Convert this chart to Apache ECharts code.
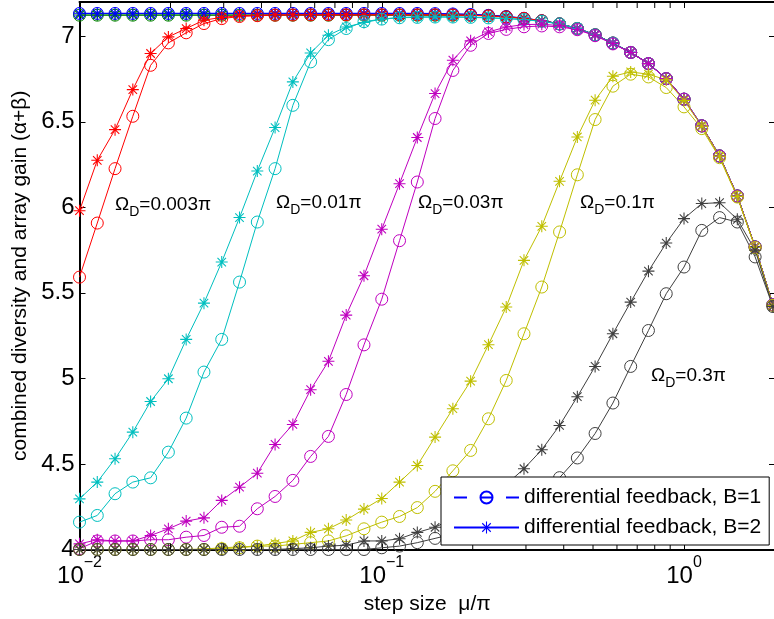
<!DOCTYPE html>
<html>
<head>
<meta charset="utf-8">
<script src="https://cdn.jsdelivr.net/npm/echarts@6/dist/echarts.min.js"></script>
<style>
  html, body { margin: 0; padding: 0; background: #fff; }
  #chart { width: 774px; height: 619px; }
</style>
</head>
<body>
<div id="chart"></div>
<script>
// step size mu/pi (17 points per decade)
const stepSize = [0.01, 0.01145, 0.01311, 0.01501, 0.01719, 0.01968, 0.02254, 0.02581, 0.02955, 0.03384,
  0.03875, 0.04437, 0.05080, 0.05817, 0.06661, 0.07627, 0.08733, 0.1, 0.1145, 0.1311,
  0.1501, 0.1719, 0.1968, 0.2254, 0.2581, 0.2955, 0.3384, 0.3875, 0.4437, 0.5080,
  0.5817, 0.6661, 0.7627, 0.8733, 1.0, 1.145, 1.311, 1.501, 1.719, 1.968];

// combined gain, B = 1 (circles) and B = 2 (asterisks), per Doppler spread
const blueB1 = [7.133, 7.133, 7.133, 7.133, 7.133, 7.133, 7.133, 7.133, 7.133, 7.133,
  7.133, 7.133, 7.133, 7.133, 7.133, 7.133, 7.133, 7.133, 7.133, 7.133,
  7.132, 7.13, 7.127, 7.122, 7.115, 7.105, 7.09, 7.072, 7.045, 7.008,
  6.96, 6.905, 6.84, 6.752, 6.632, 6.476, 6.30, 6.066, 5.768, 5.43];
const blueB2 = [7.134, 7.134, 7.134, 7.134, 7.134, 7.134, 7.134, 7.134, 7.134, 7.134,
  7.134, 7.134, 7.134, 7.134, 7.134, 7.134, 7.134, 7.134, 7.134, 7.134,
  7.133, 7.131, 7.128, 7.123, 7.116, 7.106, 7.091, 7.073, 7.046, 7.009,
  6.961, 6.906, 6.841, 6.753, 6.633, 6.477, 6.301, 6.067, 5.769, 5.431];
const greenB1 = [7.123, 7.123, 7.123, 7.123, 7.123, 7.123, 7.123, 7.123, 7.123, 7.123,
  7.123, 7.123, 7.123, 7.123, 7.123, 7.123, 7.123, 7.123, 7.123, 7.123,
  7.123, 7.123, 7.123, 7.12, 7.113, 7.104, 7.09, 7.072, 7.045, 7.008,
  6.96, 6.905, 6.84, 6.752, 6.632, 6.476, 6.30, 6.066, 5.768, 5.43];
const greenB2 = [7.124, 7.124, 7.124, 7.124, 7.124, 7.124, 7.124, 7.124, 7.124, 7.124,
  7.124, 7.124, 7.124, 7.124, 7.124, 7.124, 7.124, 7.124, 7.124, 7.124,
  7.124, 7.124, 7.124, 7.121, 7.114, 7.105, 7.091, 7.073, 7.046, 7.009,
  6.961, 6.906, 6.841, 6.753, 6.633, 6.477, 6.301, 6.067, 5.769, 5.431];
const redB1 = [5.592, 5.908, 6.226, 6.532, 6.83, 6.961, 7.02, 7.074, 7.103, 7.115,
  7.12, 7.123, 7.124, 7.125, 7.125, 7.125, 7.125, 7.125, 7.125, 7.125,
  7.125, 7.124, 7.122, 7.119, 7.113, 7.104, 7.09, 7.072, 7.045, 7.008,
  6.96, 6.905, 6.84, 6.752, 6.632, 6.476, 6.30, 6.066, 5.768, 5.43];
const redB2 = [5.98, 6.275, 6.454, 6.688, 6.899, 6.996, 7.045, 7.094, 7.11, 7.12,
  7.123, 7.125, 7.125, 7.125, 7.125, 7.125, 7.125, 7.125, 7.125, 7.125,
  7.125, 7.124, 7.122, 7.119, 7.113, 7.104, 7.09, 7.072, 7.045, 7.008,
  6.96, 6.905, 6.84, 6.752, 6.632, 6.476, 6.30, 6.066, 5.768, 5.43];
const cyanB1 = [4.16, 4.199, 4.326, 4.394, 4.419, 4.569, 4.768, 5.037, 5.228, 5.563,
  5.914, 6.226, 6.596, 6.85, 6.98, 7.045, 7.085, 7.10, 7.108, 7.11,
  7.112, 7.112, 7.11, 7.107, 7.103, 7.097, 7.087, 7.072, 7.045, 7.008,
  6.96, 6.905, 6.84, 6.752, 6.632, 6.476, 6.30, 6.066, 5.768, 5.43];
const cyanB2 = [4.296, 4.394, 4.53, 4.686, 4.865, 4.998, 5.228, 5.44, 5.68, 5.94,
  6.212, 6.466, 6.733, 6.902, 7.006, 7.054, 7.08, 7.10, 7.11, 7.113,
  7.113, 7.113, 7.112, 7.108, 7.104, 7.097, 7.087, 7.072, 7.045, 7.008,
  6.96, 6.905, 6.84, 6.752, 6.632, 6.476, 6.30, 6.066, 5.768, 5.43];
const magentaB1 = [4.005, 4.05, 4.05, 4.05, 4.057, 4.057, 4.072, 4.082, 4.13, 4.136,
  4.238, 4.31, 4.404, 4.544, 4.661, 4.906, 5.196, 5.463, 5.805, 6.148,
  6.519, 6.80, 6.947, 7.016, 7.04, 7.055, 7.06, 7.055, 7.038, 7.003,
  6.955, 6.905, 6.84, 6.752, 6.632, 6.476, 6.30, 6.066, 5.768, 5.43];
const magentaB2 = [4.033, 4.057, 4.05, 4.05, 4.082, 4.121, 4.166, 4.185, 4.287, 4.364,
  4.446, 4.614, 4.731, 4.934, 5.10, 5.37, 5.60, 5.872, 6.138, 6.408,
  6.665, 6.86, 6.973, 7.025, 7.054, 7.068, 7.07, 7.062, 7.04, 7.006,
  6.957, 6.905, 6.84, 6.752, 6.632, 6.476, 6.30, 6.066, 5.768, 5.43];
const yellowB1 = [4.0, 4.0, 4.0, 4.0, 4.0, 4.0, 4.0, 4.0, 4.005, 4.01,
  4.02, 4.02, 4.03, 4.04, 4.05, 4.08, 4.121, 4.16, 4.193, 4.245,
  4.34, 4.46, 4.579, 4.764, 4.988, 5.261, 5.534, 5.856, 6.19, 6.513,
  6.708, 6.778, 6.762, 6.70, 6.587, 6.46, 6.29, 6.06, 5.765, 5.427];
const yellowB2 = [4.0, 4.0, 4.0, 4.0, 4.0, 4.0, 4.0, 4.003, 4.01, 4.015,
  4.02, 4.035, 4.05, 4.10, 4.121, 4.172, 4.236, 4.298, 4.394, 4.491,
  4.657, 4.823, 4.984, 5.197, 5.417, 5.69, 5.889, 6.152, 6.411, 6.626,
  6.766, 6.791, 6.778, 6.745, 6.625, 6.474, 6.298, 6.064, 5.766, 5.427];
const grayB1 = [4.0, 4.0, 4.0, 4.0, 4.0, 4.0, 4.0, 4.0, 4.0, 4.0,
  4.0, 4.0, 4.0, 4.0, 4.0, 4.0, 4.0, 4.01, 4.02, 4.04,
  4.065, 4.09, 4.13, 4.18, 4.23, 4.29, 4.35, 4.42, 4.535, 4.678,
  4.856, 5.07, 5.28, 5.495, 5.651, 5.865, 5.94, 5.914, 5.71, 5.42];
const grayB2 = [4.0, 4.0, 4.0, 4.0, 4.0, 4.0, 4.0, 4.0, 4.0, 4.0,
  4.0, 4.0, 4.005, 4.01, 4.02, 4.025, 4.05, 4.05, 4.063, 4.10,
  4.13, 4.18, 4.24, 4.30, 4.38, 4.472, 4.583, 4.725, 4.893, 5.07,
  5.261, 5.446, 5.627, 5.791, 5.934, 6.022, 6.027, 5.93, 5.75, 5.42];

// annotation texts (Doppler spread) and axis ticks
const dopplerLabels = ['0.003π', '0.01π', '0.03π', '0.1π', '0.3π'];
const xDecades = [0.01, 0.1, 1];
const xMinorTicks = [0.02, 0.03, 0.04, 0.05, 0.06, 0.07, 0.08, 0.09,
  0.2, 0.3, 0.4, 0.5, 0.6, 0.7, 0.8, 0.9];
const legendNames = ['differential feedback, B=1', 'differential feedback, B=2'];

const FONT = '"Liberation Sans", Arial, Helvetica, sans-serif';
const X_MIN = 0.01, X_MAX = 2, Y_MIN = 4, Y_MAX = 7.2;
const TICK = 6;
const ASTERISK = 'path://M45.5 0H54.5V100H45.5Z M0 45.5H100V54.5H0Z M17.8 11.4L88.6 82.2L82.2 88.6L11.4 17.8Z M82.2 11.4L88.6 17.8L17.8 88.6L11.4 82.2Z';

const C = {
  blue: '#0000ff', green: '#008000', red: '#ff0000', cyan: '#00bfbf',
  magenta: '#bf00bf', yellow: '#bfbf00', gray: '#404040'
};

function curve(values, color, marker) {
  const circle = marker === 'o';
  return {
    type: 'line',
    data: stepSize.map((x, i) => [x, values[i]]),
    symbol: circle ? 'circle' : ASTERISK,
    symbolSize: 12,
    symbolKeepAspect: true,
    showAllSymbol: true,
    clip: false,
    lineStyle: { color: color, width: 1 },
    itemStyle: circle
      ? { color: 'rgba(0,0,0,0)', borderColor: color, borderWidth: 1 }
      : { color: color, borderWidth: 0 },
    emphasis: { disabled: true },
    silent: true,
    animation: false
  };
}

const curves = [
  curve(greenB1, C.green, 'o'), curve(greenB2, C.green, '*'),
  curve(blueB1, C.blue, 'o'), curve(blueB2, C.blue, '*'),
  curve(redB1, C.red, 'o'), curve(redB2, C.red, '*'),
  curve(cyanB1, C.cyan, 'o'), curve(cyanB2, C.cyan, '*'),
  curve(magentaB1, C.magenta, 'o'), curve(magentaB2, C.magenta, '*'),
  curve(yellowB1, C.yellow, 'o'), curve(yellowB2, C.yellow, '*'),
  curve(grayB1, C.gray, 'o'), curve(grayB2, C.gray, '*')
];

// legend-only entries
const legendSeries = [
  {
    type: 'line', name: legendNames[0], data: [],
    symbol: 'circle', symbolSize: 12,
    lineStyle: { color: C.blue, width: 1, type: [13, 13] },
    itemStyle: { color: 'rgba(0,0,0,0)', borderColor: C.blue, borderWidth: 1 }
  },
  {
    type: 'line', name: legendNames[1], data: [],
    symbol: ASTERISK, symbolSize: 12, symbolKeepAspect: true,
    lineStyle: { color: C.blue, width: 1 },
    itemStyle: { color: C.blue, borderWidth: 0 }
  }
];

// minor ticks of the log axis, on bottom and top edges
const minorTickSeries = {
  type: 'custom',
  data: xMinorTicks.map(v => [v, Y_MIN]),
  clip: false,
  silent: true,
  z: 5,
  renderItem: function (params, api) {
    const b = api.coord([api.value(0), Y_MIN]);
    const t = api.coord([api.value(0), Y_MAX]);
    const st = { stroke: '#000', lineWidth: 1 };
    return {
      type: 'group',
      children: [
        { type: 'line', shape: { x1: b[0], y1: b[1], x2: b[0], y2: b[1] - TICK }, style: st },
        { type: 'line', shape: { x1: t[0], y1: t[1], x2: t[0], y2: t[1] + TICK }, style: st }
      ]
    };
  }
};

function decadeLabel(v) {
  const e = Math.round(Math.log10(v));
  if (!xDecades.some(d => Math.abs(Math.log10(d) - e) < 1e-6)) return '';
  const exp = e < 0 ? '\u2212' + (-e) : String(e);
  return '{b|10}{e|' + exp + '}';
}

const axisLineStyle = { show: true, lineStyle: { color: '#000', width: 2 } };
const tickStyle = { show: true, inside: true, length: TICK, lineStyle: { color: '#000', width: 1 } };

const annoRich = {
  m: { fontSize: 19, fontFamily: FONT, color: '#000', lineHeight: 20, verticalAlign: 'top' },
  s: { fontSize: 14, fontFamily: FONT, color: '#000', lineHeight: 14, padding: [10, 0, 0, 0], verticalAlign: 'top' }
};
const annoPos = [[115, 195], [276, 193], [418, 193], [580, 193], [651, 366]];

const option = {
  animation: false,
  backgroundColor: '#fff',
  textStyle: { fontFamily: FONT, color: '#000' },
  grid: { left: 79.5, top: 2, width: 695.5, height: 547.5, containLabel: false, outerBoundsMode: 'none' },
  legend: {
    data: legendNames,
    orient: 'vertical',
    left: 441, top: 477,
    padding: [10, 8, 7, 12],
    itemGap: 9,
    itemWidth: 65,
    itemHeight: 15,
    backgroundColor: '#fff',
    borderColor: '#000',
    borderWidth: 1,
    borderRadius: 0,
    textStyle: { fontFamily: FONT, fontSize: 21, color: '#000' },
    selectedMode: false,
    z: 10
  },
  xAxis: [
    {
      type: 'log', logBase: 10, min: X_MIN, max: X_MAX, interval: 1,
      position: 'bottom',
      name: 'step size  μ/π', nameLocation: 'middle', nameGap: 43,
      nameTextStyle: { fontFamily: FONT, fontSize: 21, color: '#000' },
      axisLine: axisLineStyle, axisTick: tickStyle,
      splitLine: { show: false }, minorTick: { show: false },
      axisLabel: {
        show: true, margin: 5, showMaxLabel: false,
        formatter: decadeLabel,
        rich: {
          b: { fontSize: 24, fontFamily: FONT, color: '#000', padding: [10, 0, 0, 0], verticalAlign: 'top' },
          e: { fontSize: 16, fontFamily: FONT, color: '#000', verticalAlign: 'top' }
        }
      }
    },
    {
      type: 'log', logBase: 10, min: X_MIN, max: X_MAX, interval: 1,
      position: 'top',
      axisLine: axisLineStyle, axisTick: tickStyle,
      axisLabel: { show: false }, splitLine: { show: false }
    }
  ],
  yAxis: [
    {
      type: 'value', min: Y_MIN, max: Y_MAX, interval: 0.5,
      position: 'left',
      name: 'combined diversity and array gain (α+β)', nameLocation: 'middle', nameGap: 47,
      nameTextStyle: { fontFamily: FONT, fontSize: 21, color: '#000' },
      axisLine: axisLineStyle, axisTick: tickStyle,
      splitLine: { show: false },
      axisLabel: { show: true, margin: 5, showMaxLabel: false, fontSize: 24, fontFamily: FONT, color: '#000' }
    },
    {
      type: 'value', min: Y_MIN, max: Y_MAX, interval: 0.5,
      position: 'right',
      axisLine: axisLineStyle, axisTick: tickStyle,
      axisLabel: { show: false }, splitLine: { show: false }
    }
  ],
  graphic: dopplerLabels.map((t, i) => ({
    type: 'text',
    x: annoPos[i][0], y: annoPos[i][1],
    z: 20,
    style: {
      text: '{m|Ω}{s|D}{m|=' + t + '}',
      rich: annoRich,
      align: 'left', verticalAlign: 'top'
    }
  })),
  series: curves.concat(legendSeries, [minorTickSeries])
};

const chart = echarts.init(document.getElementById('chart'), null, { renderer: 'canvas' });
chart.setOption(option);
</script>
</body>
</html>
